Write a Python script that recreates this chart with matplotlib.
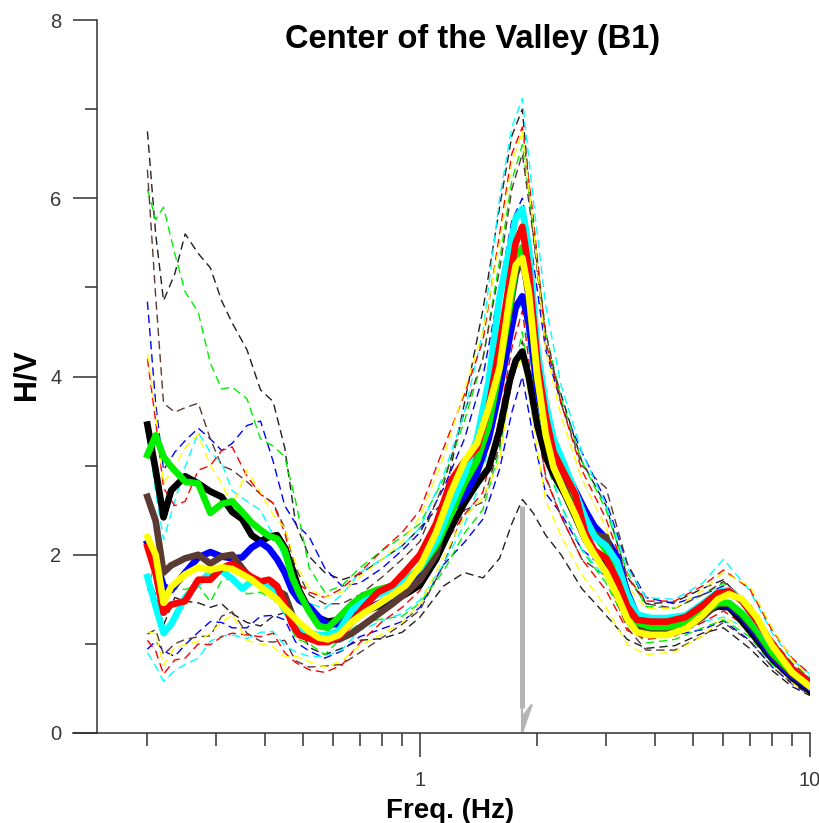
import numpy as np
import matplotlib.pyplot as plt
from matplotlib.patches import FancyArrow
from matplotlib.ticker import FixedLocator, FixedFormatter, NullFormatter

plt.rcParams['font.family'] = ['Liberation Sans', 'DejaVu Sans']

# frequency grid of the averaged (thick) curves, Hz
freq = [0.2, 0.21, 0.22, 0.23, 0.25, 0.27, 0.29, 0.31, 0.33, 0.35,
        0.37, 0.39, 0.41, 0.43, 0.45, 0.47, 0.49, 0.52, 0.55, 0.58,
        0.62, 0.67, 0.72, 0.78, 0.85, 0.92, 1.0, 1.1, 1.2, 1.3,
        1.4, 1.5, 1.6, 1.7, 1.76, 1.83, 1.9, 2.0, 2.1, 2.2,
        2.35, 2.5, 2.65, 2.8, 3.0, 3.2, 3.4, 3.6, 3.9, 4.3,
        4.8, 5.3, 5.8, 6.2, 6.7, 7.3, 8.0, 9.0, 10.0]

hv_black = [3.46, 2.95, 2.42, 2.72, 2.88, 2.80, 2.71, 2.65, 2.48, 2.40,
            2.22, 2.15, 2.20, 2.22, 2.08, 1.85, 1.60, 1.38, 1.29, 1.25,
            1.27, 1.34, 1.37, 1.42, 1.48, 1.56, 1.66, 1.95, 2.30, 2.58,
            2.80, 2.97, 3.40, 3.96, 4.18, 4.28, 4.00, 3.45, 3.10, 2.90,
            2.68, 2.43, 2.18, 2.01, 1.84, 1.56, 1.35, 1.20, 1.16, 1.18,
            1.25, 1.35, 1.42, 1.41, 1.25, 1.05, 0.83, 0.62, 0.47]
hv_blue = [2.13, 1.95, 1.65, 1.60, 1.80, 1.97, 2.03, 1.98, 1.96, 1.97,
           2.08, 2.14, 2.07, 1.95, 1.80, 1.60, 1.49, 1.42, 1.30, 1.22,
           1.22, 1.30, 1.38, 1.45, 1.53, 1.62, 1.78, 2.05, 2.50, 2.66,
           2.92, 3.30, 3.85, 4.45, 4.78, 4.90, 4.60, 3.85, 3.40, 3.15,
           2.95, 2.72, 2.50, 2.32, 2.18, 1.98, 1.58, 1.32, 1.26, 1.25,
           1.27, 1.34, 1.44, 1.43, 1.30, 1.10, 0.85, 0.64, 0.50]
hv_green = [3.12, 3.34, 3.10, 2.99, 2.82, 2.80, 2.47, 2.57, 2.60, 2.48,
            2.36, 2.28, 2.21, 2.18, 2.05, 1.75, 1.57, 1.36, 1.20, 1.18,
            1.30, 1.45, 1.55, 1.61, 1.65, 1.72, 1.85, 2.10, 2.45, 2.80,
            3.05, 3.45, 4.10, 4.80, 5.25, 5.45, 5.00, 4.00, 3.50, 3.20,
            2.95, 2.65, 2.40, 2.22, 2.05, 1.85, 1.48, 1.24, 1.19, 1.19,
            1.24, 1.35, 1.46, 1.46, 1.34, 1.15, 0.90, 0.68, 0.54]
hv_brown = [2.65, 2.38, 1.80, 1.88, 1.96, 2.00, 1.90, 1.98, 2.00, 1.85,
            1.72, 1.66, 1.63, 1.60, 1.55, 1.33, 1.12, 1.07, 1.05, 1.04,
            1.05, 1.12, 1.22, 1.33, 1.45, 1.57, 1.72, 2.00, 2.62, 3.00,
            3.15, 3.50, 4.10, 4.75, 5.15, 5.35, 4.90, 3.95, 3.50, 3.15,
            2.88, 2.58, 2.35, 2.22, 2.20, 1.80, 1.50, 1.22, 1.14, 1.12,
            1.18, 1.30, 1.45, 1.45, 1.32, 1.13, 0.88, 0.66, 0.52]
hv_cyan = [1.75, 1.42, 1.12, 1.22, 1.52, 1.68, 1.80, 1.82, 1.73, 1.62,
           1.70, 1.68, 1.62, 1.55, 1.38, 1.25, 1.16, 1.12, 1.10, 1.10,
           1.15, 1.38, 1.48, 1.55, 1.62, 1.70, 1.85, 2.15, 2.55, 2.90,
           3.30, 3.95, 4.90, 5.45, 5.78, 5.88, 5.45, 4.30, 3.70, 3.30,
           3.00, 2.70, 2.42, 2.20, 2.10, 1.92, 1.55, 1.33, 1.29, 1.29,
           1.32, 1.45, 1.58, 1.60, 1.48, 1.25, 0.98, 0.72, 0.58]
hv_red = [2.09, 1.79, 1.35, 1.44, 1.48, 1.72, 1.72, 1.85, 1.90, 1.82,
          1.75, 1.70, 1.72, 1.65, 1.45, 1.22, 1.10, 1.06, 1.02, 1.02,
          1.08, 1.25, 1.42, 1.58, 1.66, 1.82, 2.00, 2.35, 2.83, 3.05,
          3.20, 3.65, 4.35, 5.10, 5.50, 5.68, 5.20, 4.15, 3.55, 3.15,
          2.90, 2.68, 2.25, 2.05, 1.96, 1.72, 1.42, 1.27, 1.25, 1.25,
          1.30, 1.43, 1.57, 1.59, 1.48, 1.26, 1.00, 0.72, 0.57]
hv_yellow = [2.20, 2.00, 1.46, 1.64, 1.78, 1.86, 1.83, 1.86, 1.84, 1.78,
             1.72, 1.64, 1.57, 1.50, 1.40, 1.32, 1.24, 1.14, 1.07, 1.05,
             1.10, 1.25, 1.35, 1.44, 1.55, 1.66, 1.87, 2.25, 2.70, 3.05,
             3.25, 3.65, 4.10, 4.90, 5.25, 5.33, 4.95, 4.00, 3.35, 2.98,
             2.70, 2.45, 2.18, 2.00, 1.80, 1.55, 1.28, 1.13, 1.10, 1.10,
             1.17, 1.32, 1.50, 1.56, 1.50, 1.30, 0.98, 0.68, 0.52]

# frequency grid of the +/- std (dashed) curves
dashed_freq = [0.2, 0.21, 0.22, 0.235, 0.25, 0.27, 0.29, 0.31, 0.33, 0.36,
               0.39, 0.42, 0.45, 0.48, 0.52, 0.57, 0.63, 0.7, 0.8, 0.9,
               1.0, 1.15, 1.3, 1.45, 1.6, 1.72, 1.83, 1.95, 2.1, 2.3,
               2.6, 3.0, 3.4, 3.8, 4.5, 5.3, 6.0, 7.0, 8.0, 9.0, 10.0]

up_black = [6.75, 5.6, 4.85, 5.15, 5.6, 5.38, 5.22, 4.85, 4.6, 4.3,
            3.85, 3.72, 3.2, 2.35, 1.98, 1.8, 1.72, 1.78, 1.95, 2.1,
            2.3, 2.6, 3.7, 4.75, 5.9, 6.7, 7.0, 5.6, 4.35, 3.8,
            3.05, 2.55, 1.75, 1.45, 1.47, 1.62, 1.72, 1.40, 0.98, 0.74, 0.53]
lo_black = [1.77, 1.55, 1.21, 1.52, 1.48, 1.46, 1.41, 1.45, 1.34, 1.24,
            1.20, 1.31, 1.35, 1.26, 0.96, 0.88, 0.95, 1.04, 1.06, 1.13,
            1.30, 1.65, 1.80, 1.74, 1.96, 2.35, 2.62, 2.47, 2.22, 2.00,
            1.62, 1.32, 1.05, 0.95, 0.98, 1.12, 1.18, 0.95, 0.70, 0.52, 0.42]
up_blue = [4.84, 3.7, 2.95, 3.15, 3.28, 3.42, 3.30, 3.17, 3.25, 3.45,
           3.5, 3.05, 2.55, 2.35, 2.2, 1.85, 1.65, 1.68, 1.85, 2.05,
           2.25, 2.75, 3.3, 4.0, 5.0, 5.75, 6.0, 5.3, 4.3, 3.7,
           3.15, 2.6, 1.9, 1.52, 1.45, 1.55, 1.65, 1.38, 0.98, 0.74, 0.58]
lo_blue = [0.94, 1.03, 0.92, 0.86, 0.99, 1.13, 1.25, 1.24, 1.18, 1.18,
           1.31, 1.32, 1.27, 1.02, 0.92, 0.84, 0.92, 1.08, 1.17, 1.25,
           1.41, 1.89, 2.14, 2.40, 2.96, 3.60, 4.00, 3.33, 2.69, 2.46,
           2.06, 1.83, 1.31, 1.08, 1.10, 1.16, 1.26, 1.04, 0.74, 0.55, 0.43]
up_green = [6.1, 5.76, 5.9, 5.38, 4.95, 4.72, 4.15, 3.86, 3.88, 3.75,
            3.3, 3.22, 3.1, 2.6, 1.85, 1.58, 1.65, 1.85, 2.05, 2.2,
            2.35, 2.85, 3.5, 4.2, 5.3, 6.2, 6.6, 5.7, 4.5, 3.75,
            3.05, 2.5, 1.8, 1.42, 1.40, 1.55, 1.68, 1.45, 1.05, 0.78, 0.62]
lo_green = [1.60, 1.94, 1.63, 1.62, 1.61, 1.66, 1.47, 1.71, 1.74, 1.56,
            1.58, 1.50, 1.36, 1.06, 1.00, 0.88, 1.07, 1.23, 1.28, 1.31,
            1.46, 1.82, 2.24, 2.51, 3.17, 3.95, 4.50, 3.63, 3.04, 2.56,
            2.05, 1.68, 1.22, 1.01, 1.05, 1.18, 1.27, 1.08, 0.77, 0.59, 0.47]
up_brown = [6.32, 4.9, 3.7, 3.6, 3.65, 3.7, 3.3, 3.0, 2.95, 2.82,
            2.68, 2.58, 2.3, 1.85, 1.55, 1.45, 1.45, 1.55, 1.75, 1.95,
            2.15, 2.8, 3.6, 4.2, 5.2, 6.1, 6.5, 5.6, 4.5, 3.7,
            3.0, 2.75, 1.9, 1.45, 1.40, 1.55, 1.70, 1.45, 1.05, 0.78, 0.62]
lo_brown = [1.11, 1.16, 0.88, 1.00, 1.05, 1.08, 1.09, 1.31, 1.36, 1.12,
            1.03, 1.02, 1.04, 0.81, 0.74, 0.75, 0.77, 0.90, 1.07, 1.22,
            1.38, 1.89, 2.50, 2.59, 3.23, 3.94, 4.40, 3.70, 2.88, 2.43,
            1.95, 1.76, 1.18, 0.93, 0.93, 1.09, 1.24, 1.03, 0.74, 0.56, 0.44]
up_cyan = [3.4, 2.7, 2.17, 2.6, 2.99, 3.37, 3.15, 3.03, 2.72, 2.6,
           2.5, 2.22, 1.95, 1.58, 1.45, 1.40, 1.55, 1.80, 1.95, 2.1,
           2.3, 2.9, 3.6, 4.5, 6.0, 6.8, 7.12, 6.0, 4.8, 3.9,
           3.15, 2.55, 1.85, 1.52, 1.50, 1.68, 1.95, 1.60, 1.12, 0.82, 0.66]
lo_cyan = [0.90, 0.75, 0.58, 0.70, 0.77, 0.84, 1.03, 1.09, 1.10, 1.06,
           1.13, 1.14, 0.98, 0.91, 0.86, 0.86, 0.93, 1.15, 1.26, 1.34,
           1.49, 1.90, 2.34, 2.88, 4.00, 4.53, 4.86, 3.92, 3.17, 2.54,
           2.06, 1.73, 1.30, 1.11, 1.13, 1.25, 1.30, 1.16, 0.86, 0.63, 0.51]
up_red = [4.2, 3.5, 2.75, 2.55, 2.6, 2.95, 3.0, 3.17, 3.21, 2.88,
          2.68, 2.58, 2.25, 1.70, 1.58, 1.52, 1.62, 1.80, 2.05, 2.25,
          2.5, 3.2, 3.8, 4.4, 5.6, 6.5, 6.8, 5.8, 4.4, 3.7,
          2.95, 2.4, 1.75, 1.48, 1.48, 1.65, 1.83, 1.62, 1.15, 0.84, 0.66]
lo_red = [1.04, 0.92, 0.66, 0.82, 0.84, 1.00, 0.99, 1.08, 1.12, 1.10,
          1.08, 1.12, 0.90, 0.79, 0.71, 0.68, 0.76, 1.01, 1.25, 1.41,
          1.60, 2.11, 2.45, 2.70, 3.54, 4.32, 4.74, 3.81, 2.86, 2.43,
          1.95, 1.60, 1.15, 1.05, 1.09, 1.24, 1.37, 1.17, 0.87, 0.62, 0.49]
up_yellow = [4.26, 3.6, 2.8, 3.0, 3.2, 3.35, 3.0, 2.8, 2.55, 2.95,
             2.7, 2.45, 2.3, 1.9, 1.62, 1.52, 1.58, 1.75, 1.95, 2.15,
             2.42, 3.1, 3.85, 4.5, 5.5, 6.4, 6.75, 5.7, 4.3, 3.55,
             2.85, 2.3, 1.65, 1.40, 1.40, 1.60, 1.80, 1.65, 1.18, 0.82, 0.62]
lo_yellow = [1.14, 1.11, 0.76, 0.96, 0.99, 1.03, 1.12, 1.24, 1.33, 1.04,
             1.00, 0.97, 0.85, 0.86, 0.80, 0.74, 0.81, 0.98, 1.11, 1.24,
             1.45, 1.98, 2.42, 2.64, 3.06, 3.98, 4.21, 3.47, 2.61, 2.21,
             1.78, 1.41, 0.99, 0.88, 0.91, 1.09, 1.30, 1.15, 0.81, 0.56, 0.44]

# peak frequency marked by the grey arrow
peak_freq = 1.826
arrow_top = 2.55

c_black = '#000000'
c_blue = '#0000ff'
c_green = '#00f000'
c_brown = '#5a3a33'
c_cyan = '#00ffff'
c_red = '#ff0000'
c_yellow = '#ffff00'

means = [(hv_black, c_black), (hv_blue, c_blue), (hv_brown, c_brown),
         (hv_green, c_green), (hv_cyan, c_cyan), (hv_red, c_red),
         (hv_yellow, c_yellow)]
bands = [(up_black, lo_black, '#202020'), (up_blue, lo_blue, c_blue),
         (up_green, lo_green, c_green), (up_brown, lo_brown, c_brown),
         (up_cyan, lo_cyan, c_cyan), (up_red, lo_red, c_red),
         (up_yellow, lo_yellow, c_yellow)]

fig = plt.figure(figsize=(8.2, 8.23), dpi=100)
ax = fig.add_axes([73 / 820, 90 / 823, 737 / 820, 713 / 823])
ax.set_xscale('log')

for up, lo, col in bands:
    ax.plot(dashed_freq, up, color=col, lw=1.0, linestyle=(0, (6, 3.5)))
    ax.plot(dashed_freq, lo, color=col, lw=1.0, linestyle=(0, (6, 3.5)))

for hv, col in means:
    ax.plot(freq, hv, color=col, lw=4.8, solid_joinstyle='round')

# grey arrow down to the axis at the peak frequency
ax.plot([peak_freq, peak_freq], [arrow_top, 0.28], color='#b4b4b4', lw=3.6,
        solid_capstyle='butt')
ax.add_patch(FancyArrow(peak_freq, 0.32, 0, -0.32, width=0.0, head_width=0.22,
                        head_length=0.32, shape='right', overhang=0.45,
                        length_includes_head=True, color='#b4b4b4', lw=1.5))

ax.set_xlim(0.1289, 10)
ax.set_ylim(0, 8)
ax.spines['top'].set_visible(False)
ax.spines['right'].set_visible(False)
ax.spines['left'].set_position(('data', 0.1485))
for s in ['left', 'bottom']:
    ax.spines[s].set_linewidth(1.1)
    ax.spines[s].set_color('#303030')

ax.xaxis.set_major_locator(FixedLocator([1, 10]))
ax.xaxis.set_major_formatter(FixedFormatter(['1', '10']))
ax.xaxis.set_minor_locator(FixedLocator([0.2, 0.3, 0.4, 0.5, 0.6, 0.7, 0.8, 0.9,
                                         2, 3, 4, 5, 6, 7, 8, 9]))
ax.xaxis.set_minor_formatter(NullFormatter())
ax.yaxis.set_major_locator(FixedLocator([0, 2, 4, 6, 8]))
ax.yaxis.set_minor_locator(FixedLocator([1, 3, 5, 7]))

ax.tick_params(which='major', length=17.5, width=1.1, color='#303030',
               labelsize=14.5, labelcolor='#383838')
ax.tick_params(which='minor', length=9, width=1.1, color='#303030')
ax.tick_params(axis='x', which='major', pad=10)
ax.tick_params(axis='y', which='major', pad=8)

fig.text(473 / 820, 1 - 48 / 823, 'Center of the Valley (B1)', ha='center',
         va='baseline', fontsize=23.5, fontweight='bold')
fig.text(450 / 820, 1 - 818 / 823, 'Freq. (Hz)', ha='center', va='baseline',
         fontsize=20, fontweight='bold')
fig.text(27 / 820, 1 - 375 / 823, 'H/V', ha='center', va='center',
         rotation=90, fontsize=22, fontweight='bold')

fig.savefig('out.png', dpi=100)
